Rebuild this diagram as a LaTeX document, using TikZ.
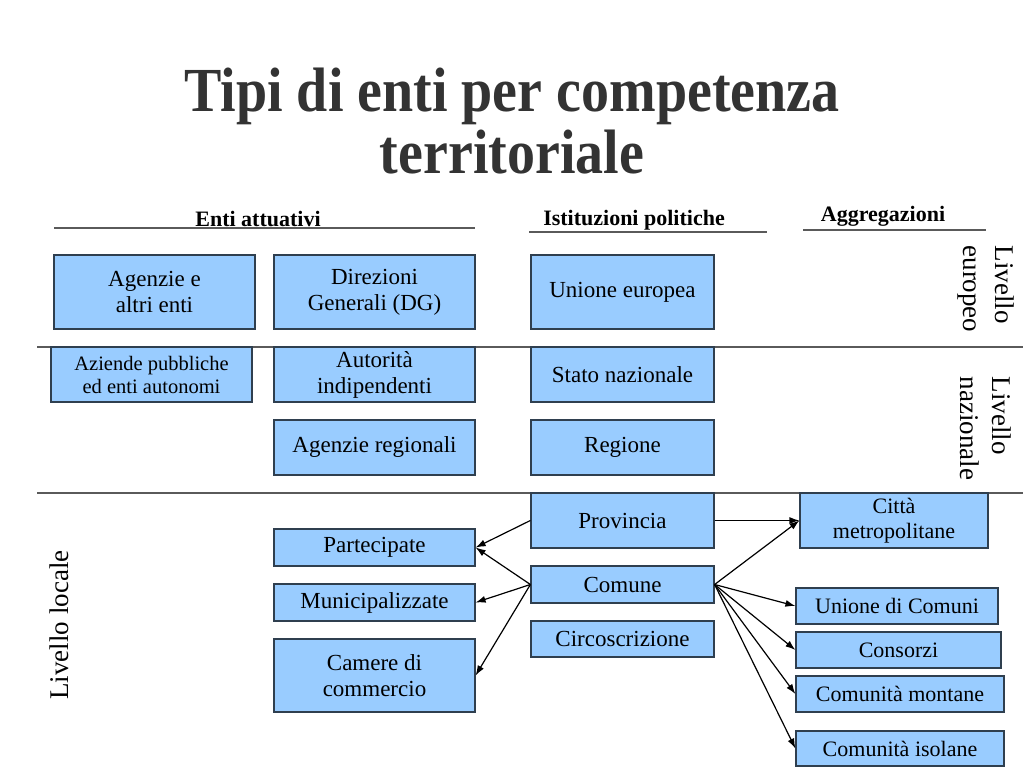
\documentclass[tikz,border=0pt]{standalone}
\usepackage{fontspec}
\setmainfont{Liberation Serif}
\usepackage{tikz}
\usetikzlibrary{arrows.meta}
\definecolor{boxblue}{HTML}{99CCFF}
\definecolor{boxline}{HTML}{2F3F4F}
\definecolor{rulegray}{HTML}{5A5A5A}
\definecolor{titlegray}{HTML}{333333}
\tikzstyle{ent}=[rectangle,draw=boxline,fill=boxblue,line width=1.2pt,align=center,inner sep=0pt,font=\fontsize{23}{26}\selectfont]
\tikzstyle{aggr}=[ent,font=\fontsize{22}{25}\selectfont]
\tikzstyle{rule}=[draw=rulegray,line width=1.3pt]
\tikzstyle{head}=[anchor=base,font=\fontsize{22}{25}\selectfont\bfseries]
\tikzstyle{level}=[align=left,font=\fontsize{27}{32}\selectfont]
\tikzstyle{title}=[anchor=base,text=titlegray,yscale=1.12,font=\fontsize{56}{61}\selectfont\bfseries]
\tikzstyle{edge}=[draw,line width=1.2pt,-{Latex[length=10pt,width=7pt]}]

\begin{document}
\begin{tikzpicture}[x=1pt,y=-1pt]

\fill[white] (0,0) rectangle (1023,767);
\useasboundingbox (0,0) rectangle (1023,767);

% Title
\node[title] (title1) at (512,112) {Tipi di enti per competenza};
\node[title] (title2) at (512,174) {territoriale};

% Column heads
\coordinate (h1a) at (54,228);  \coordinate (h1b) at (475,228);
\coordinate (h2a) at (529,232); \coordinate (h2b) at (767,232);
\coordinate (h3a) at (803,230); \coordinate (h3b) at (986,230);
\path[rule] (h1a) -- (h1b);
\path[rule] (h2a) -- (h2b);
\path[rule] (h3a) -- (h3b);
\node[head] (attuativi) at (258,227) {Enti attuativi};
\node[head] (politiche) at (634,226) {Istituzioni politiche};
\node[head] (aggregazioni) at (883,222) {Aggregazioni};

% Level separators
\coordinate (s1a) at (37,347);  \coordinate (s1b) at (1023,347);
\coordinate (s2a) at (37,493);  \coordinate (s2b) at (1023,493);
\path[rule] (s1a) -- (s1b);
\path[rule] (s2a) -- (s2b);

% Levels
\node[level,rotate=-90] (europeo) at (986,289) {Livello\\europeo};
\node[level,rotate=-90] (nazionale) at (986,428.5) {Livello\\nazionale};
\node[level,rotate=90] (locale) at (59,625) {Livello locale};

%Enti attuativi
\foreach \pos/\name/\w/\h/\txt in {{(154.5,292)/agenzie/201/74/{Agenzie e\\altri enti}}, {(374.5,292)/dg/201/74/{Direzioni\\Generali (DG)}}, {(374.5,374.5)/autorita/201/55/{Autorità\\indipendenti}}, {(374.5,447.5)/agreg/201/55/{Agenzie regionali}}, {(374.5,547.5)/partecipate/201/37/{Partecipate}}, {(374.5,602.5)/municip/201/37/{Municipalizzate}}, {(374.5,675.5)/camere/201/73/{Camere di\\commercio}}}
    \node[ent,minimum width=\w pt,minimum height=\h pt] (\name) at \pos {\txt};
\node[ent,minimum width=201pt,minimum height=55pt,font=\fontsize{20.5}{23}\selectfont] (aziende) at (151.5,374.5) {Aziende pubbliche\\ed enti autonomi};

%Istituzioni politiche
\foreach \pos/\name/\h/\txt in {{(622.5,292)/ue/74/{Unione europea}}, {(622.5,374.5)/stato/55/{Stato nazionale}}, {(622.5,447.5)/regione/55/{Regione}}, {(622.5,520.5)/provincia/55/{Provincia}}, {(622.5,584.5)/comune/37/{Comune}}, {(622.5,639)/circo/36/{Circoscrizione}}}
    \node[ent,minimum width=183pt,minimum height=\h pt] (\name) at \pos {\txt};

%Aggregazioni
\foreach \pos/\name/\w/\h/\txt in {{(894,520.5)/citta/188/55/{Città\\metropolitane}}, {(897,606)/unione/202/36/{Unione di Comuni}}, {(898.5,650)/consorzi/205/36/{Consorzi}}, {(900,694)/montane/208/36/{Comunità montane}}, {(900,748.5)/isolane/208/35/{Comunità isolane}}}
    \node[aggr,minimum width=\w pt,minimum height=\h pt] (\name) at \pos {\txt};

% Connect
\path[edge] (provincia.west) -- (partecipate.east);
\foreach \dest in {partecipate, municip, camere}
    \path[edge] (comune.west) -- (\dest.east);
\path[edge] (provincia.east) -- (citta.west);
\foreach \dest in {citta, unione, consorzi, montane, isolane}
    \path[edge] (comune.east) -- (\dest.west);

\end{tikzpicture}
\end{document}
